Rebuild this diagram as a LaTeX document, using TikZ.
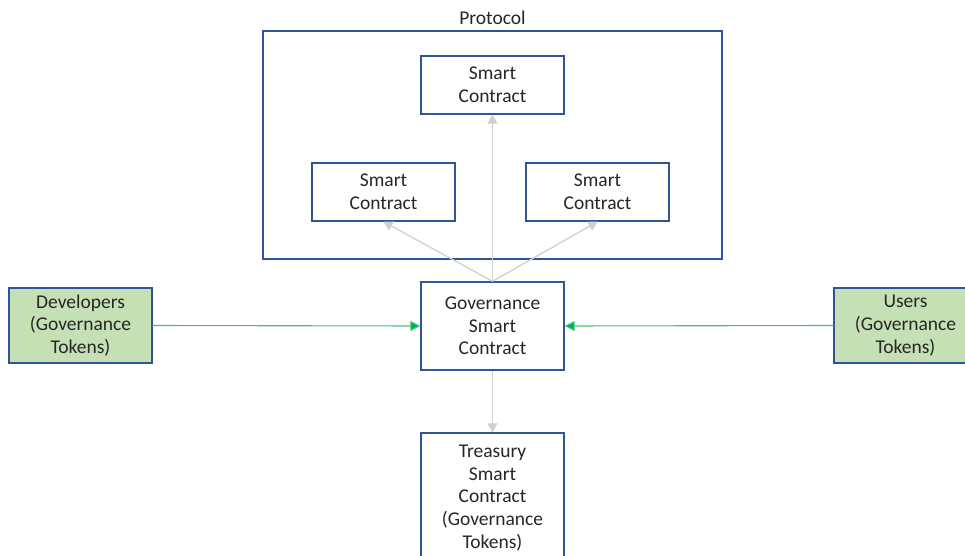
\documentclass[tikz,border=0pt]{standalone}
\usepackage{fontspec}
\setmainfont{Carlito}
\usetikzlibrary{arrows.meta}
\definecolor{boxblue}{HTML}{2F5597}
\definecolor{boxgreen}{HTML}{C5E0B4}
\definecolor{arrgray}{HTML}{D0D0D0}
\definecolor{arrgreen}{HTML}{00B050}
\begin{document}
\begin{tikzpicture}[x=1pt,y=-1pt,
  txt/.style={font=\fontsize{19.5}{22.7}\selectfont, align=center, text=black!85},
  scbox/.style={txt, draw=boxblue, line width=1.4pt, fill=white, minimum width=143pt, inner sep=0pt},
  tokbox/.style={scbox, fill=boxgreen},
  grayarr/.style={draw=arrgray, line width=1.3pt, -{Triangle[width=10pt,length=9pt]}},
  greenarr/.style={draw=arrgreen!75, line width=1.1pt, -{Triangle[width=10pt,length=10pt,fill=arrgreen]}}
]
\useasboundingbox (0,0) rectangle (965,556);
\clip (0,0) rectangle (965,556);
\fill[white] (0,0) rectangle (965,556);
\node[draw=boxblue, line width=1.4pt, minimum width=459pt, minimum height=228pt, inner sep=0pt] (proto) at (492.5,145) {};
\node[txt] (protolbl) at (492.5,17.5) {Protocol};
\node[scbox, minimum height=58pt] (top) at (492.5,85) {Smart\\Contract};
\node[scbox, minimum height=58pt] (left) at (383.5,192) {Smart\\Contract};
\node[scbox, minimum height=58pt] (right) at (597.5,192) {Smart\\Contract};
\node[scbox, minimum height=88pt] (gov) at (492.5,326) {Governance\\Smart\\Contract};
\node[scbox, minimum height=130pt] (treas) at (492.5,498) {Treasury\\Smart\\Contract\\(Governance\\Tokens)};
\node[tokbox, minimum height=75pt] (dev) at (80.5,325.5) {Developers\\(Governance\\Tokens)};
\node[tokbox, minimum height=75pt] (users) at (905.5,325.5) {Users\\(Governance\\Tokens)};
\draw[grayarr] (gov.north) -- (top.south);
\draw[grayarr] (gov.north) -- (left.south);
\draw[grayarr] (gov.north) -- (right.south);
\draw[grayarr] (gov.south) -- (treas.north);
\draw[greenarr] (dev.east) -- (gov.west);
\draw[greenarr] (users.west) -- (gov.east);
\end{tikzpicture}
\end{document}
